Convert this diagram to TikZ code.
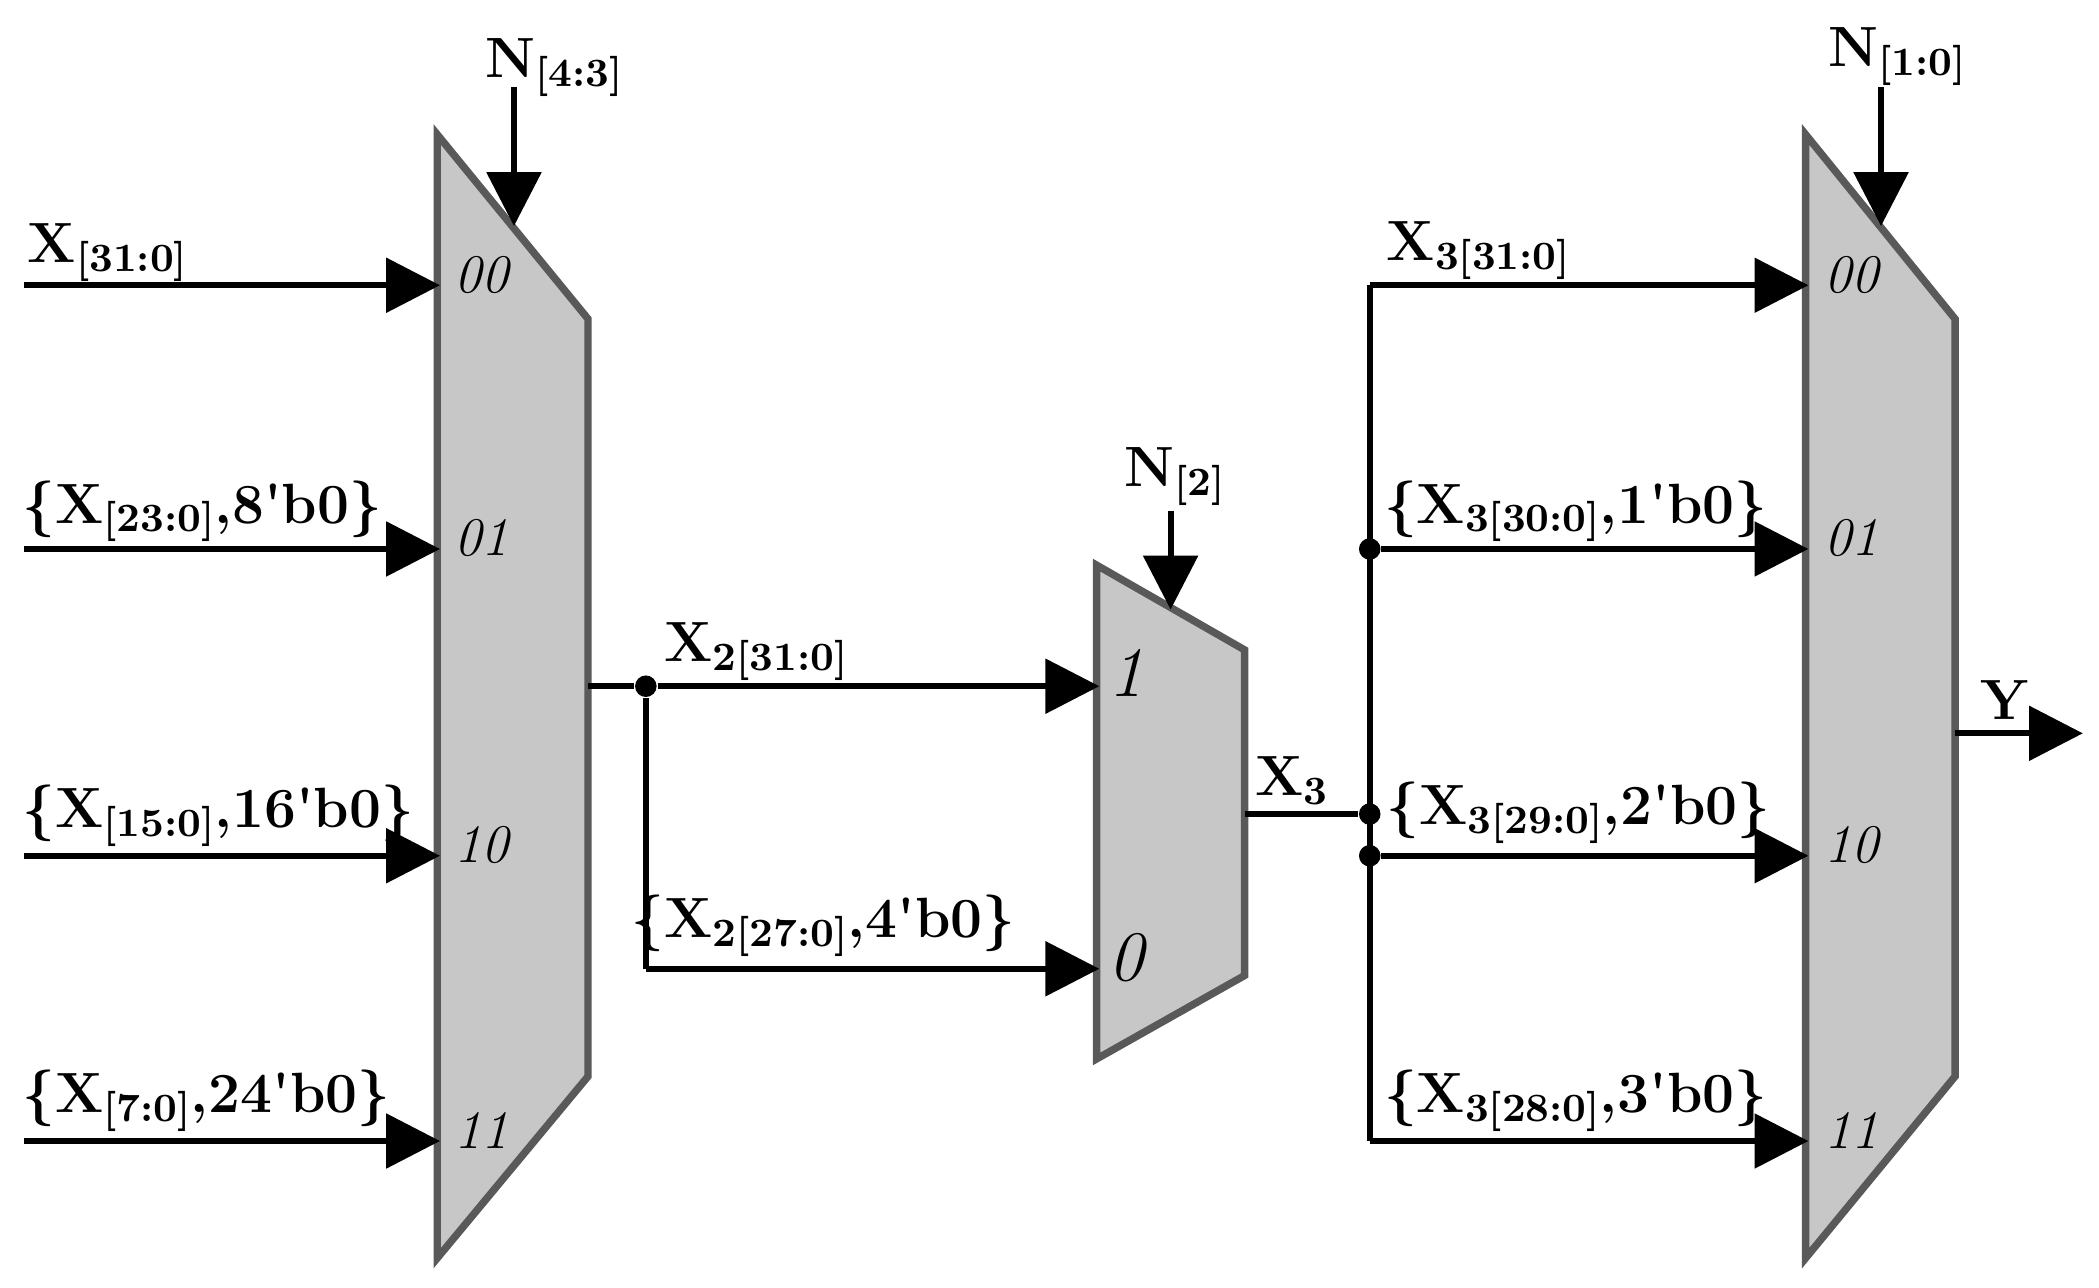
\documentclass[tikz,border=0pt]{standalone}
\usetikzlibrary{arrows.meta}
\begin{document}
\newcommand{\sbx}[1]{\raisebox{-0.35ex}{\fontsize{8.5}{10}\selectfont #1}}
\newcommand{\q}{\textquotesingle}
\begin{tikzpicture}[x=0.1mm,y=-0.1mm,
  mux/.style={fill=black!22,draw=black!65,line width=0.55mm,line join=miter},
  wire/.style={line width=0.45mm},
  arr/.style={wire,-{Triangle[length=4mm,width=4mm]}},
  lab/.style={font=\fontsize{12}{14}\selectfont\bfseries,inner sep=0pt},
  port/.style={font=\fontsize{11.5}{14}\selectfont\itshape,inner sep=0pt,anchor=west},
  dot/.style={circle,fill=black,inner sep=0pt,minimum size=1.6mm}]
\useasboundingbox (0,0) rectangle (1560,957);
% muxes
\draw[mux] (325,100) -- (437,237) -- (437,800) -- (325,935) -- cycle;
\draw[mux] (815,420) -- (925,483) -- (925,725) -- (815,787) -- cycle;
\draw[mux] (1342,100) -- (1453,237) -- (1453,800) -- (1342,935) -- cycle;
% left inputs
\foreach \y/\p in {212/00,408/01,636/10,848/11}{
  \coordinate (li\p) at (18,\y); \coordinate (lm\p) at (327,\y);
  \draw[arr] (li\p) -- (lm\p);
  \node[port] (lp\p) at (337,\y-8) {\p};}
\node[lab,anchor=west] (l1) at (20,188) {X\sbx{[31:0]}};
\node[lab,anchor=west] (l2) at (16,380) {\{X\sbx{[23:0]},8\q b0\}};
\node[lab,anchor=west] (l3) at (16,606) {\{X\sbx{[15:0]},16\q b0\}};
\node[lab,anchor=west] (l4) at (16,818) {\{X\sbx{[7:0]},24\q b0\}};
% selects
\coordinate (s1a) at (382,65); \coordinate (s1b) at (382,168);
\draw[arr] (s1a) -- (s1b);
\node[lab] (n1) at (412,50) {N\sbx{[4:3]}};
\coordinate (s2a) at (870,380); \coordinate (s2b) at (870,453);
\draw[arr] (s2a) -- (s2b);
\node[lab] (n2) at (873,354) {N\sbx{[2]}};
\coordinate (s3a) at (1398,65); \coordinate (s3b) at (1398,168);
\draw[arr] (s3a) -- (s3b);
\node[lab] (n3) at (1410,42) {N\sbx{[1:0]}};
% middle
\coordinate (lo) at (437,510);
\node[dot] (d1) at (480,510) {};
\coordinate (m1) at (817,510); \coordinate (m0) at (817,720); \coordinate (c0) at (480,720);
\draw[wire] (lo) -- (d1);
\draw[arr] (d1) -- (m1);
\draw[wire] (d1) -- (c0);
\draw[arr] (c0) -- (m0);
\node[port,font=\fontsize{15}{17}\selectfont\itshape] (p1) at (823,500) {1};
\node[port,font=\fontsize{15}{17}\selectfont\itshape] (p0) at (823,712) {0};
\node[lab] (x2a) at (562,484) {X\sbx{2[31:0]}};
\node[lab] (x2b) at (612,688) {\{X\sbx{2[27:0]},4\q b0\}};
% right bus
\coordinate (mo) at (925,605);
\node[dot] (b605) at (1018,605) {};
\node[dot] (b408) at (1018,408) {};
\node[dot] (b636) at (1018,636) {};
\coordinate (b212) at (1018,212); \coordinate (b848) at (1018,848);
\draw[wire] (mo) -- (b605);
\draw[wire] (b212) -- (b848);
\node[lab] (x3) at (960,580) {X\sbx{3}};
\draw[arr] (b212) -- (1344,212) coordinate (r00);
\draw[arr] (b408) -- (1344,408) coordinate (r01);
\draw[arr] (b636) -- (1344,636) coordinate (r10);
\draw[arr] (b848) -- (1344,848) coordinate (r11);
\foreach \y/\p in {212/00,408/01,636/10,848/11}{
  \node[port] (rp\p) at (1355,\y-8) {\p};}
\node[lab,anchor=west] (r1) at (1030,186) {X\sbx{3[31:0]}};
\node[lab,anchor=west] (r2) at (1028,380) {\{X\sbx{3[30:0]},1\q b0\}};
\node[lab,anchor=west] (r3) at (1030,604) {\{X\sbx{3[29:0]},2\q b0\}};
\node[lab,anchor=west] (r4) at (1028,818) {\{X\sbx{3[28:0]},3\q b0\}};
% output
\coordinate (yo) at (1453,545); \coordinate (ye) at (1548,545);
\draw[arr] (yo) -- (ye);
\node[lab] (y) at (1490,520) {Y};
\end{tikzpicture}
\end{document}
